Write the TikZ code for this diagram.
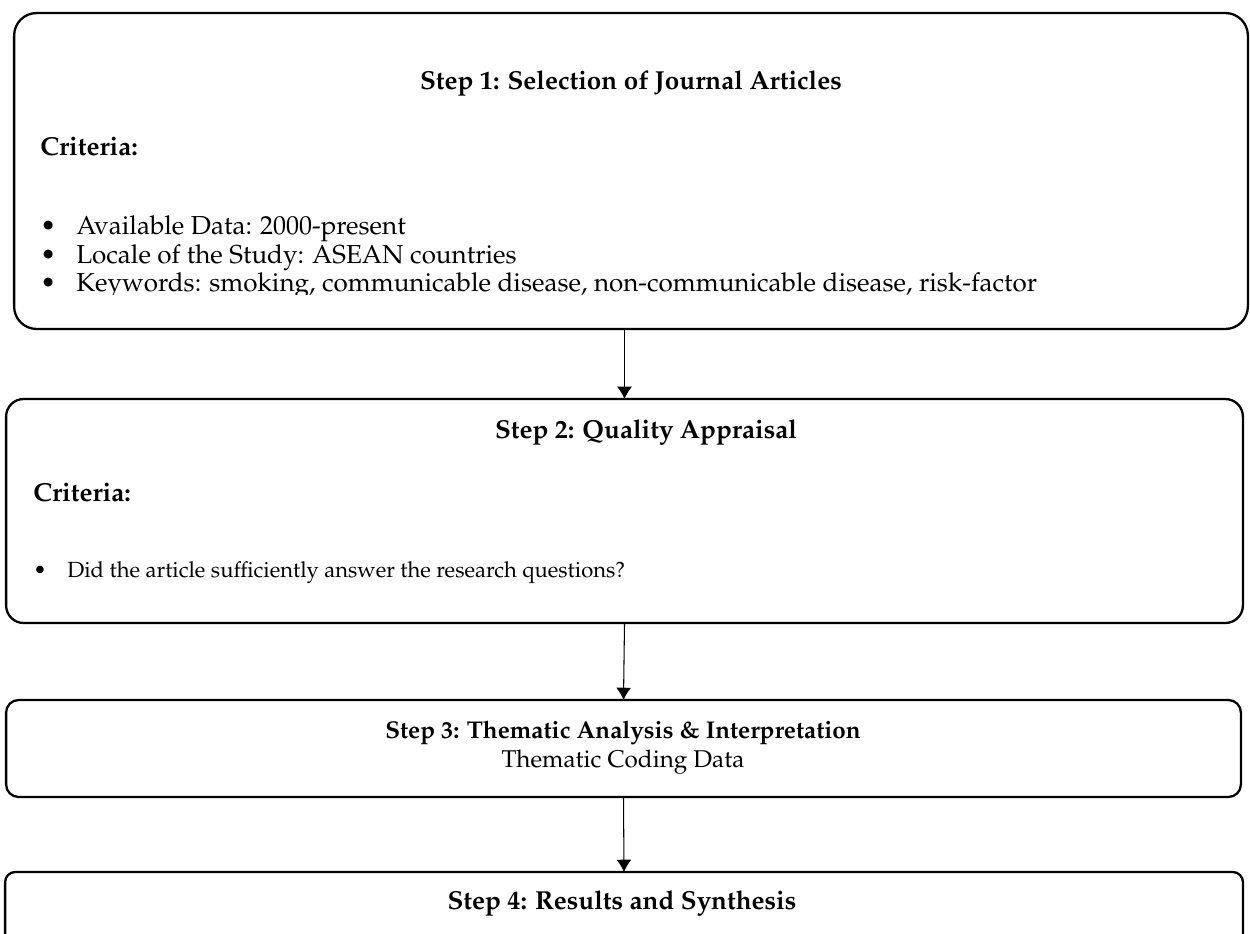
\documentclass[tikz,border=0pt]{standalone}
\usepackage[T1]{fontenc}
\usepackage{mathpazo}
\usetikzlibrary{arrows.meta}

\begin{document}
\begin{tikzpicture}[x=0.02cm, y=-0.02cm,
    box/.style={draw, line width=1.3pt, rounded corners=#1, inner sep=0pt, outer sep=0pt},
    box/.default=0.4cm,
    title/.style={font=\fontsize{14.8}{17}\selectfont\bfseries},
    head/.style={anchor=base west, inner sep=0pt, font=\fontsize{14.8}{17}\selectfont\bfseries},
    item/.style={anchor=base west, inner sep=0pt, font=\fontsize{14.8}{17}\selectfont},
    small/.style={anchor=base west, inner sep=0pt, font=\fontsize{12.5}{15}\selectfont},
    arr/.style={-{Latex[length=7pt, width=8.5pt]}, line width=0.6pt}]
  \useasboundingbox (0,0) rectangle (1250,933);
  \clip (0,0) rectangle (1250,933);

  \node[box=0.45cm, minimum width=24.68cm, minimum height=6.32cm] (step1) at (631,171) {};
  \node[box=0.35cm, minimum width=24.74cm, minimum height=4.48cm] (step2) at (624.5,511) {};
  \node[box=0.25cm, minimum width=24.7cm, minimum height=1.94cm] (step3) at (623.5,748.5) {};
  \node[box=0.2cm, minimum width=24.76cm, minimum height=2.4cm] (step4) at (624,932) {};

  \node[title] (title1) at (631,83) {Step 1: Selection of Journal Articles};
  \node[head] (crit1) at (40,155) {Criteria:};
  \foreach \i/\y/\txt in {1/234/{Available Data: 2000-present}, 2/263/{Locale of the Study: ASEAN countries}} {
    \node[item] (dot\i) at (40,\y) {\textbullet};
    \node[item] (line\i) at (76,\y) {\txt};
  }
  \begin{scope}
    \clip (14,13) rectangle (1248,294);
    \node[item] (dot3) at (40,291) {\textbullet};
    \node[item] (line3) at (76,291) {Keywords: smoking, communicable disease, non-communicable disease, risk-factor};
  \end{scope}

  \node[title] (title2) at (646,432) {Step 2: Quality Appraisal};
  \node[head] (crit2) at (33,501) {Criteria:};
  \node[small] (dot4) at (33,577) {\textbullet};
  \node[small] (line4) at (67,577) {Did the article sufficiently answer the research questions?};

  \node[title, font=\fontsize{13.8}{16}\selectfont\bfseries] (title3) at (623,733) {Step 3: Thematic Analysis \& Interpretation};
  \node[item, anchor=center, font=\fontsize{13.8}{16}\selectfont] (sub3) at (623,762) {Thematic Coding Data};

  \node[title] (title4) at (622,903) {Step 4: Results and Synthesis};

  \draw[arr] (step1.south -| step2.north) -- (step2.north);
  \draw[arr] (step2.south) -- (step3.north);
  \draw[arr] (step3.south) -- (step4.north);
\end{tikzpicture}
\end{document}
